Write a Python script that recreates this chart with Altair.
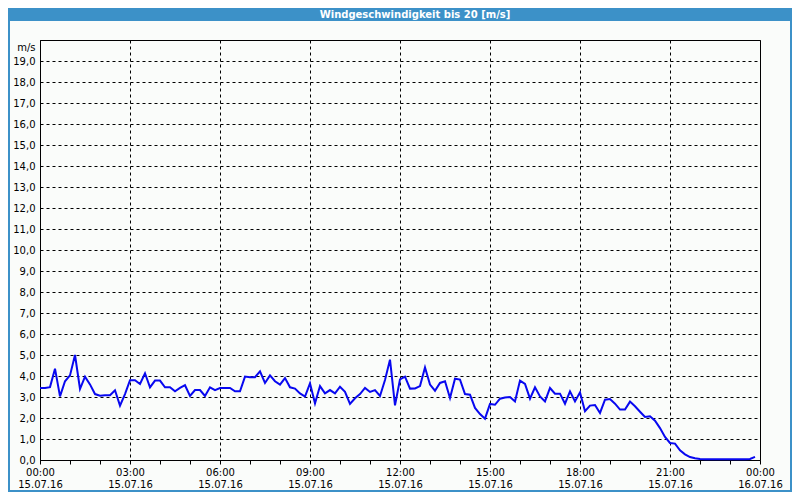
import altair as alt
import pandas as pd

title_text = "Windgeschwindigkeit bis 20 [m/s]"
unit_label = "m/s"
date_day1 = "15.07.16"
date_day2 = "16.07.16"

# 10-minute readings from 00:00 to 23:50
minutes = list(range(0, 1440, 10))
speed = [
    3.43, 3.43, 3.47, 4.35, 3.03, 3.75, 4.03, 5.00, 3.38, 3.97, 3.60, 3.14,
    3.06, 3.08, 3.08, 3.32, 2.59, 3.14, 3.80, 3.80, 3.62, 4.13, 3.46, 3.78,
    3.78, 3.46, 3.46, 3.27, 3.43, 3.56, 3.05, 3.33, 3.33, 3.05, 3.46, 3.33,
    3.43, 3.43, 3.43, 3.27, 3.27, 3.97, 3.94, 3.94, 4.22, 3.67, 4.03, 3.75,
    3.59, 3.90, 3.46, 3.40, 3.17, 3.02, 3.65, 2.70, 3.52, 3.17, 3.33, 3.17,
    3.49, 3.25, 2.67, 2.94, 3.14, 3.43, 3.24, 3.33, 3.05, 3.81, 4.78, 2.60,
    3.84, 3.97, 3.40, 3.41, 3.52, 4.41, 3.59, 3.30, 3.67, 3.75, 2.95, 3.87,
    3.83, 3.14, 3.11, 2.48, 2.19, 1.97, 2.67, 2.63, 2.92, 2.98, 3.00, 2.79,
    3.78, 3.62, 2.92, 3.46, 3.03, 2.79, 3.43, 3.16, 3.16, 2.68, 3.27, 2.79,
    3.22, 2.32, 2.59, 2.62, 2.24, 2.87, 2.90, 2.68, 2.40, 2.40, 2.78, 2.56,
    2.30, 2.05, 2.08, 1.87, 1.52, 1.10, 0.81, 0.78, 0.46, 0.27, 0.14, 0.08,
    0.05, 0.03, 0.03, 0.03, 0.03, 0.03, 0.03, 0.03, 0.03, 0.03, 0.05, 0.15,
]

hour_ticks = list(range(0, 25))
y_ticks = list(range(0, 20))

df = pd.DataFrame({"hour": [m / 60 for m in minutes], "speed": speed})

FONT = "DejaVu Sans"
BAR_BLUE = "#3c91c8"

x_label_expr = (
    "datum.value % 3 == 0 ? "
    "[((datum.value % 24) < 10 ? '0' : '') + (datum.value % 24) + ':00', "
    f"datum.value < 24 ? '{date_day1}' : '{date_day2}'] : ''"
)

line = alt.Chart(df).mark_line(color="#0808f0", strokeWidth=2, interpolate="linear").encode(
    x=alt.X(
        "hour:Q",
        scale=alt.Scale(domain=[0, 24], nice=False, zero=False),
        axis=alt.Axis(
            values=hour_ticks,
            labelExpr=x_label_expr,
            title=None,
            grid=True,
            gridColor="black",
            gridDash=[3, 3],
            gridWidth=1,
            gridOpacity={"condition": {"test": "datum.value % 3 == 0", "value": 1}, "value": 0},
            ticks=True,
            tickSize=4,
            tickColor="black",
            domainColor="black",
            labelFont=FONT,
            labelFontSize=10,
            labelColor="black",
            labelPadding=3,
            labelLineHeight=12,
            labelBaseline="top",
            labelOverlap=False,
            labelFlush=False,
        ),
    ),
    y=alt.Y(
        "speed:Q",
        scale=alt.Scale(domain=[0, 20], nice=False),
        axis=alt.Axis(
            values=y_ticks,
            labelExpr="replace(format(datum.value, '.1f'), '.', ',')",
            title=unit_label,
            titleAngle=0,
            titleX=-5,
            titleY=7,
            titleAlign="right",
            titleBaseline="middle",
            titleFont=FONT,
            titleFontSize=10,
            titleFontWeight="normal",
            titleColor="black",
            grid=True,
            gridColor="black",
            gridDash=[3, 3],
            gridWidth=1,
            ticks=False,
            domainColor="black",
            labelFont=FONT,
            labelFontSize=10,
            labelColor="black",
            labelPadding=5,
        ),
    ),
)

deco = pd.DataFrame({"t": [title_text]})

title_bar = alt.Chart(deco).mark_rect(color=BAR_BLUE).encode(
    x=alt.value(-32), x2=alt.value(752), y=alt.value(-32), y2=alt.value(-19)
)
title_label = alt.Chart(deco).mark_text(
    color="white", font=FONT, fontSize=10, fontWeight="bold", align="center", baseline="middle"
).encode(x=alt.value(375), y=alt.value(-25.5), text="t:N")
border = alt.Chart(deco).mark_rect(filled=False, stroke=BAR_BLUE, strokeWidth=2).encode(
    x=alt.value(-31), x2=alt.value(751), y=alt.value(-32), y2=alt.value(451)
)

chart = (
    alt.layer(title_bar, border, line, title_label)
    .properties(
        width=720,
        height=420,
        autosize=alt.AutoSizeParams(type="none"),
        padding={"left": 32, "top": 32, "right": 32, "bottom": 32},
        background="#fafcfa",
    )
    .configure_view(stroke="black", strokeWidth=1)
)

chart.save("out.html", embed_options={"renderer": "svg", "actions": False})
